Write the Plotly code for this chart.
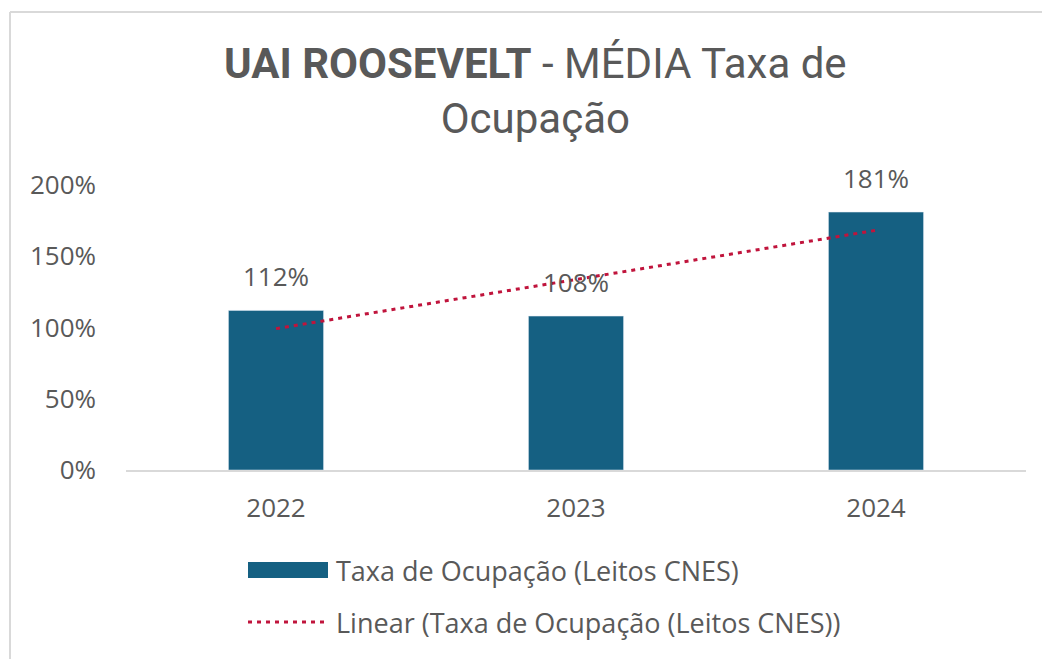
import plotly.graph_objects as go

years = ["2022", "2023", "2024"]
taxa = [112, 108, 181]           # % média taxa de ocupação
trend = [99.2, 133.7, 168.2]     # linha de tendência linear
y_ticks = [0, 50, 100, 150, 200]
y_labels = ["0%", "50%", "100%", "150%", "200%"]

BAR = "#156082"
RED = "#C0143C"
TXT = "#595959"
TFONT = "Roboto"
FONT = "Open Sans"

bar_name = "Taxa de Ocupação (Leitos CNES)"
trend_name = "Linear (Taxa de Ocupação (Leitos CNES))"

xpos = list(range(len(years)))

fig = go.Figure()
fig.add_trace(go.Bar(
    x=xpos, y=taxa, name=bar_name, marker_color=BAR, width=0.317,
    showlegend=False,
))
fig.add_trace(go.Scatter(
    x=xpos, y=trend, name=trend_name, mode="lines",
    line=dict(color=RED, width=3, dash="4px,5px"), showlegend=False,
))

# rótulos de dados acima das barras
for i, v in zip(xpos, taxa):
    fig.add_annotation(
        x=i, y=v, text=f"{v}%", showarrow=False, yanchor="bottom",
        yshift=14, font=dict(size=26, color=TXT, family=FONT),
    )

# posições em px da área de plotagem (0% em y=470, 200% em y=185, x 126..1026)
PH = 285.0
def py(px_y):
    return (470 - px_y) / PH

def pxx(px_x):
    return (px_x - 126) / 900.0

# legenda desenhada à mão (amostras largas como no Excel)
fig.add_shape(type="rect", xref="paper", yref="paper",
              x0=pxx(248), x1=pxx(328), y0=py(578), y1=py(562),
              fillcolor=BAR, line_width=0)
fig.add_shape(type="line", xref="paper", yref="paper",
              x0=pxx(248), x1=pxx(328), y0=py(622), y1=py(622),
              line=dict(color=RED, width=3, dash="4px,5px"))
for name, yy in [(bar_name, 570), (trend_name, 622)]:
    fig.add_annotation(
        xref="paper", yref="paper", x=pxx(334), y=py(yy), text=name,
        showarrow=False, xanchor="left", yanchor="middle",
        font=dict(size=27, color=TXT, family=FONT),
    )

# título
fig.add_annotation(
    xref="paper", yref="paper", x=pxx(535), y=py(91),
    text="<b>UAI ROOSEVELT</b> - MÉDIA Taxa de<br>Ocupação",
    showarrow=False, xanchor="center", yanchor="middle",
    font=dict(size=42, color=TXT, family=TFONT),
)

# moldura do gráfico (topo e esquerda)
fig.add_shape(type="line", xref="paper", yref="paper",
              x0=pxx(10), x1=pxx(1060), y0=py(12), y1=py(12),
              line=dict(color="#D9D9D9", width=2))
fig.add_shape(type="line", xref="paper", yref="paper",
              x0=pxx(10), x1=pxx(10), y0=py(12), y1=py(670),
              line=dict(color="#D9D9D9", width=2))

# a página tem 8px de margem no corpo: figura 8px menor e margens deslocadas
fig.update_layout(
    width=1042, height=651,
    paper_bgcolor="white", plot_bgcolor="white",
    margin=dict(l=118, r=24, t=177, b=189),
    font=dict(family=FONT, color=TXT),
)
fig.update_xaxes(
    range=[-0.5, 2.5], tickvals=xpos, ticktext=years,
    showgrid=False, zeroline=False, showline=True, linecolor="#D9D9D9", linewidth=2,
    tickfont=dict(size=26, color=TXT), ticks="", ticklabelstandoff=14,
    automargin=False,
)
fig.update_yaxes(
    range=[0, 200], tickvals=y_ticks, ticktext=y_labels,
    showgrid=False, zeroline=False, showline=False,
    tickfont=dict(size=26, color=TXT), ticklabelstandoff=29,
    automargin=False,
)

fig.write_html("out.html")
